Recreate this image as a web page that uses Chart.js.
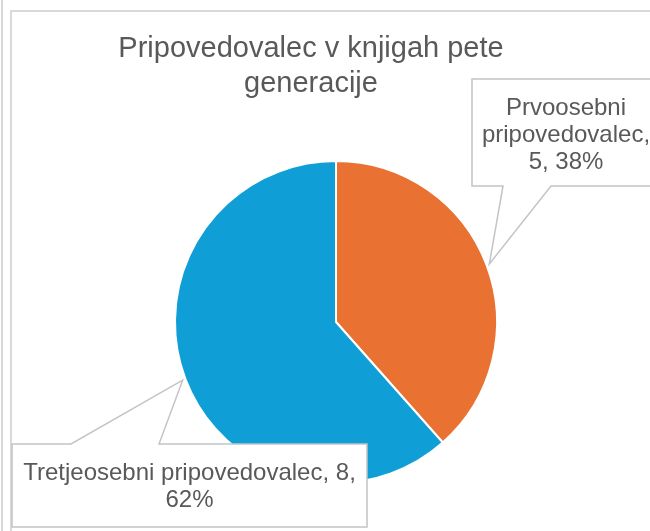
<!DOCTYPE html>
<html>
<head>
<meta charset="utf-8">
<script src="https://cdn.jsdelivr.net/npm/chart.js@4.4.1/dist/chart.umd.min.js"></script>
<style>
  body { margin: 0; background: #fff; }
  #wrap { position: relative; width: 650px; height: 531px; }
</style>
</head>
<body>
<div id="wrap"><canvas id="pie" width="650" height="531"></canvas></div>
<script>
// data
const titleLines = ['Pripovedovalec v knjigah pete', 'generacije'];
const labels = ['Prvoosebni pripovedovalec', 'Tretjeosebni pripovedovalec'];
const values = [5, 8];
const colors = ['#E97132', '#0F9ED5'];

const FONT = '"Liberation Sans", Arial, sans-serif';
const GREY_TEXT = '#595959';
const GREY_LINE = '#c4c4c4';

// callout boxes (left, top, right, bottom), wedge base x's, wedge on which edge
const callouts = [
  { box: [472, 79, 662, 186], base: [503, 551], edge: 'bottom', maxW: 178, lineY: [115, 142, 169] },
  { box: [12, 444, 367, 527], base: [71, 159], edge: 'top', maxW: 345, lineY: [480, 507] }
];

function wrapText(ctx, text, maxW) {
  let words = text.split(' '), lines = [], cur = '';
  words.forEach(w => {
    let test = cur ? cur + ' ' + w : w;
    if (ctx.measureText(test).width > maxW && cur) { lines.push(cur); cur = w; }
    else cur = test;
  });
  if (cur) lines.push(cur);
  return lines;
}

const framePlugin = {
  id: 'frame',
  beforeDraw(chart) {
    const ctx = chart.ctx;
    ctx.save();
    ctx.strokeStyle = '#d9d9d9';
    ctx.lineWidth = 2;
    ctx.beginPath();
    ctx.moveTo(2, 0); ctx.lineTo(2, 531);
    ctx.moveTo(11, 531); ctx.lineTo(11, 11); ctx.lineTo(650, 11);
    ctx.stroke();

    // title
    ctx.fillStyle = GREY_TEXT;
    ctx.font = '29px ' + FONT;
    ctx.textAlign = 'center';
    ctx.textBaseline = 'alphabetic';
    ctx.fillText(titleLines[0], 311, 57);
    ctx.fillText(titleLines[1], 311, 92);
    ctx.restore();
  },
  afterDraw(chart) {
    const ctx = chart.ctx;
    const arcs = chart.getDatasetMeta(0).data;
    const total = values.reduce((a, b) => a + b, 0);
    ctx.save();
    arcs.forEach((arc, i) => {
      const c = callouts[i];
      const p = arc.getProps(['x', 'y', 'startAngle', 'endAngle', 'outerRadius'], true);
      const mid = (p.startAngle + p.endAngle) / 2;
      const ax = p.x + Math.cos(mid) * (p.outerRadius + 3);
      const ay = p.y + Math.sin(mid) * (p.outerRadius + 3);
      const [l, t, r, b] = c.box;

      ctx.beginPath();
      if (c.edge === 'bottom') {
        ctx.moveTo(l, t); ctx.lineTo(r, t); ctx.lineTo(r, b);
        ctx.lineTo(c.base[1], b); ctx.lineTo(ax, ay); ctx.lineTo(c.base[0], b);
        ctx.lineTo(l, b);
      } else {
        ctx.moveTo(l, t); ctx.lineTo(c.base[0], t); ctx.lineTo(ax, ay);
        ctx.lineTo(c.base[1], t); ctx.lineTo(r, t); ctx.lineTo(r, b);
        ctx.lineTo(l, b);
      }
      ctx.closePath();
      ctx.fillStyle = '#fff';
      ctx.fill();
      ctx.strokeStyle = GREY_LINE;
      ctx.lineWidth = 1.5;
      ctx.stroke();

      const pct = Math.round(values[i] / total * 100);
      const txt = labels[i] + ', ' + values[i] + ', ' + pct + '%';
      ctx.font = '24px ' + FONT;
      ctx.fillStyle = GREY_TEXT;
      ctx.textAlign = 'center';
      const lines = wrapText(ctx, txt, c.maxW);
      const cx = (l + Math.min(r, 660)) / 2;
      lines.forEach((ln, k) => ctx.fillText(ln, cx, c.lineY[k]));
    });
    ctx.restore();
  }
};

new Chart(document.getElementById('pie'), {
  type: 'pie',
  data: {
    labels: labels,
    datasets: [{
      data: values,
      backgroundColor: colors,
      borderColor: '#ffffff',
      borderWidth: 2
    }]
  },
  options: {
    responsive: false,
    animation: false,
    layout: { padding: { left: 174, right: 152, top: 160, bottom: 47 } },
    plugins: {
      legend: { display: false },
      tooltip: { enabled: false },
      title: { display: false }
    }
  },
  plugins: [framePlugin]
});
</script>
</body>
</html>
